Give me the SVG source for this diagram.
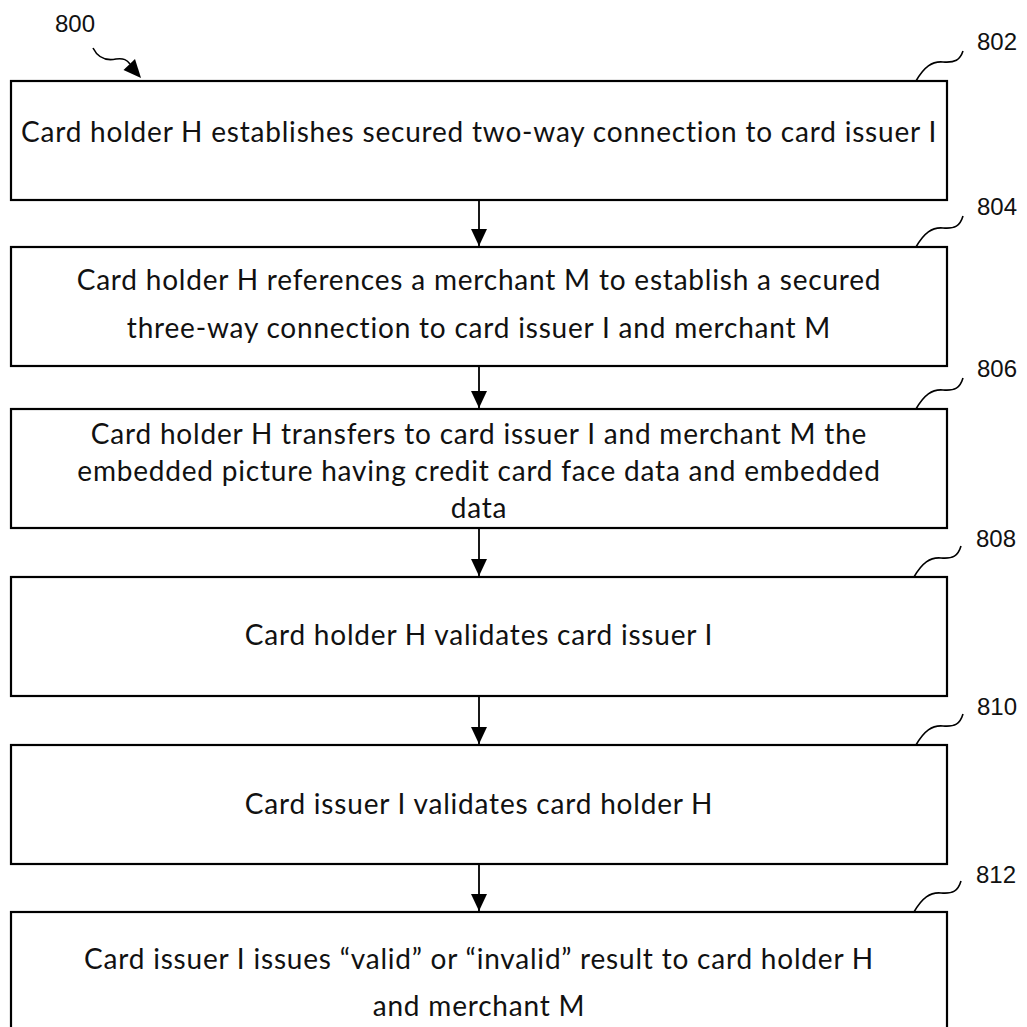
<svg xmlns="http://www.w3.org/2000/svg" width="1027" height="1027" viewBox="0 0 1027 1027">
<defs>
<style>
.box{fill:#fff;stroke:#000;stroke-width:2.2}
.t{font-family:Lato,"Open Sans","Liberation Sans",sans-serif;font-size:28px;letter-spacing:0.8px;fill:#111;text-anchor:middle}
.lbl{font-family:"Liberation Sans",Arial,sans-serif;font-size:24px;fill:#111}
.sq{fill:none;stroke:#000;stroke-width:1.6}
.conn{stroke:#000;stroke-width:1.8;fill:none}
</style>
<marker id="ah" markerWidth="17" markerHeight="16" refX="17" refY="8" orient="auto" markerUnits="userSpaceOnUse" viewBox="0 0 17 16">
<path d="M0,0 L17,8 L0,16 Z" fill="#000"/>
</marker>
</defs>
<rect width="1027" height="1027" fill="#fff"/>

<g id="ref800">
<text class="lbl" x="55" y="32">800</text>
<path class="sq" d="M93,48 C98,58 106,61 116,59 C124,58 127,60 130,64"/>
<polygon points="141,78 123.5,70 135,59" fill="#000"/>
</g>

<g id="n802">
<rect class="box" x="11" y="81" width="936" height="119"/>
<text class="t" x="479" y="142">Card holder H establishes secured two-way connection to card issuer I</text>
<path class="sq" d="M916,81 C924,67 932,61 943,62 C955,63 960,60 963,51"/>
<text class="lbl" x="977" y="50">802</text>
</g>

<g id="n804">
<rect class="box" x="11" y="247" width="936" height="119"/>
<text class="t" x="479" y="290">Card holder H references a merchant M to establish a secured</text>
<text class="t" x="479" y="338">three-way connection to card issuer I and merchant M</text>
<path class="sq" d="M916,247 C924,233 932,227 943,228 C955,229 960,226 963,216"/>
<text class="lbl" x="977" y="215">804</text>
</g>

<g id="n806">
<rect class="box" x="11" y="409" width="936" height="119"/>
<text class="t" x="479" y="444">Card holder H transfers to card issuer I and merchant M the</text>
<text class="t" x="479" y="481">embedded picture having credit card face data and embedded</text>
<text class="t" x="479" y="518">data</text>
<path class="sq" d="M916,409 C924,395 932,389 943,390 C955,391 960,388 963,378"/>
<text class="lbl" x="977" y="377">806</text>
</g>

<g id="n808">
<rect class="box" x="11" y="577" width="936" height="119"/>
<text class="t" x="479" y="645">Card holder H validates card issuer I</text>
<path class="sq" d="M914,577 C922,563 930,557 941,558 C953,559 958,556 961,546"/>
<text class="lbl" x="976" y="547">808</text>
</g>

<g id="n810">
<rect class="box" x="11" y="745" width="936" height="119"/>
<text class="t" x="479" y="814">Card issuer I validates card holder H</text>
<path class="sq" d="M916,745 C924,731 932,725 943,726 C955,727 960,724 963,714"/>
<text class="lbl" x="977" y="715">810</text>
</g>

<g id="n812">
<rect class="box" x="11" y="912" width="936" height="130"/>
<text class="t" x="479" y="969">Card issuer I issues “valid” or “invalid” result to card holder H</text>
<text class="t" x="479" y="1016">and merchant M</text>
<path class="sq" d="M914,912 C922,898 930,892 941,893 C953,894 958,891 961,881"/>
<text class="lbl" x="976" y="883">812</text>
</g>

<g id="connectors">
<line class="conn" x1="479" y1="201" x2="479" y2="246" marker-end="url(#ah)"/>
<line class="conn" x1="479" y1="367" x2="479" y2="408" marker-end="url(#ah)"/>
<line class="conn" x1="479" y1="529" x2="479" y2="576" marker-end="url(#ah)"/>
<line class="conn" x1="479" y1="697" x2="479" y2="744" marker-end="url(#ah)"/>
<line class="conn" x1="479" y1="865" x2="479" y2="911" marker-end="url(#ah)"/>
</g>
</svg>
